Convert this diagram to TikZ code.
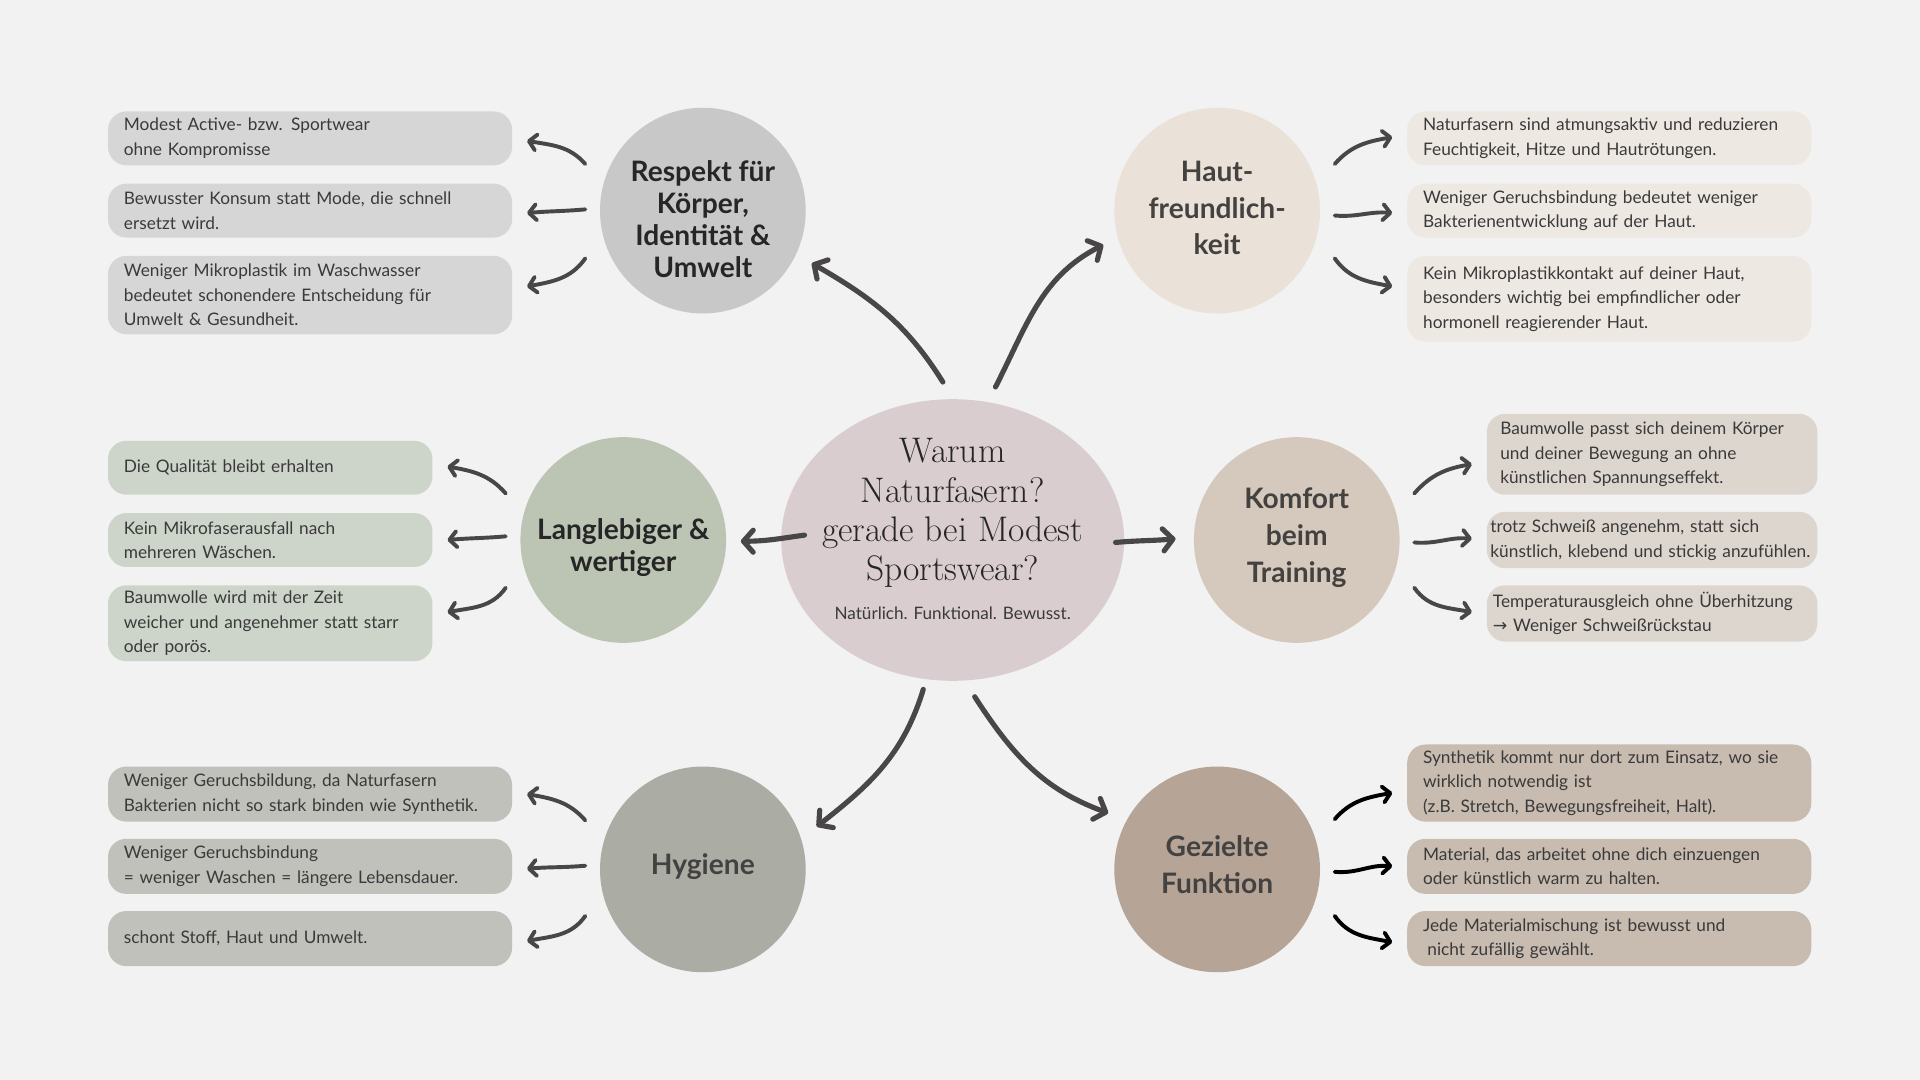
\documentclass[tikz,border=0pt]{standalone}
\usepackage{fontspec}
\setsansfont{Lato}
\newfontfamily\arrowfont{DejaVu Sans}
\usepackage{tikz}
\usetikzlibrary{shapes.geometric,arrows.meta,calc}

\definecolor{bgcol}{HTML}{F2F2F2}
\definecolor{cencol}{HTML}{D9CDD0}
\definecolor{respcol}{HTML}{C8C8C8}
\definecolor{respbox}{HTML}{D6D6D6}
\definecolor{hautcol}{HTML}{EAE1D8}
\definecolor{hautbox}{HTML}{EDE8E2}
\definecolor{langcol}{HTML}{BCC5B4}
\definecolor{langbox}{HTML}{CDD4C9}
\definecolor{komfcol}{HTML}{D4C9BC}
\definecolor{komfbox}{HTML}{DDD6CE}
\definecolor{hygcol}{HTML}{ABADA4}
\definecolor{hygbox}{HTML}{C0C1BB}
\definecolor{gezcol}{HTML}{B6A596}
\definecolor{gezbox}{HTML}{C8BBAF}
\definecolor{arrowcol}{HTML}{484646}
\definecolor{darktext}{HTML}{262626}
\definecolor{headtext}{HTML}{444141}
\definecolor{infotext}{HTML}{3A3A3A}

\tikzset{
  topic/.style={circle, minimum size=168pt, inner sep=0pt},
  heading/.style={align=center, inner sep=0pt,
    font=\sffamily\bfseries\fontsize{23}{30}\selectfont, text=headtext},
  tightheading/.style={heading, font=\sffamily\bfseries\fontsize{23}{26.3}\selectfont, text=darktext},
  info/.style={rounded corners=15pt, anchor=west, align=left, inner xsep=13pt,
    inner ysep=0pt, text width=304pt, font=\sffamily\fontsize{14.1}{20}\selectfont,
    text=infotext},
  bigarrow/.style={draw=arrowcol, line width=4.2pt, line cap=round,
    -{Straight Barb[length=8pt, width=18pt, line cap=round, line join=round]}},
  smallarrow/.style={draw=arrowcol, line width=3.2pt, line cap=round,
    -{Straight Barb[length=6pt, width=13pt, line cap=round, line join=round]}}
}

\begin{document}
\begin{tikzpicture}[x=1pt, y=1pt]
  \fill[bgcol] (0,0) rectangle (1568,-882);

  % centre
  \node[ellipse, fill=cencol, minimum width=280pt, minimum height=230pt, inner sep=0pt] (cen) at (778,-441) {};
  \node[align=center, font=\fontsize{29}{32}\selectfont, text=darktext] (title) at (778,-419)
    {Warum\\Naturfasern?\\gerade bei Modest\\Sportswear?};
  \node[font=\sffamily\fontsize{14}{16}\selectfont, text=infotext] (motto) at (778,-501)
    {Natürlich. Funktional. Bewusst.};

  % topics
  \node[topic, fill=respcol] (resp) at (574,-172) {};
  \node[tightheading] (resp-t) at ([yshift=-7pt]resp.center) {Respekt für\\Körper,\\Identität \&\\Umwelt};
  \node[topic, fill=hautcol] (haut) at (994,-172) {};
  \node[heading] (haut-t) at ([yshift=2pt]haut.center) {Haut-\\freundlich-\\keit};
  \node[topic, fill=langcol] (lang) at (509,-441) {};
  \node[tightheading] (lang-t) at ([yshift=-6pt]lang.center) {Langlebiger \&\\wertiger};
  \node[topic, fill=komfcol] (komf) at (1059,-441) {};
  \node[heading] (komf-t) at ([yshift=2pt]komf.center) {Komfort\\beim\\Training};
  \node[topic, fill=hygcol] (hyg) at (574,-710) {};
  \node[heading] (hyg-t) at ([yshift=2pt]hyg.center) {Hygiene};
  \node[topic, fill=gezcol] (gez) at (994,-710) {};
  \node[heading] (gez-t) at ([yshift=4pt]gez.center) {Gezielte\\Funktion};

  % Respekt
  \node[info, fill=respbox, minimum height=44pt] (r1) at (88,-113)
    {Modest Active- bzw. Sportwear\\ohne Kompromisse};
  \node[info, fill=respbox, minimum height=44pt] (r2) at (88,-172)
    {Bewusster Konsum statt Mode, die schnell\\ersetzt wird.};
  \node[info, fill=respbox, minimum height=64pt] (r3) at (88,-241)
    {Weniger Mikroplastik im Waschwasser\\bedeutet schonendere Entscheidung für\\Umwelt \& Gesundheit.};

  % Haut
  \node[info, fill=hautbox, minimum height=44pt] (h1) at (1149,-113)
    {Naturfasern sind atmungsaktiv und reduzieren\\Feuchtigkeit, Hitze und Hautrötungen.};
  \node[info, fill=hautbox, minimum height=44pt] (h2) at (1149,-172)
    {Weniger Geruchsbindung bedeutet weniger\\Bakterienentwicklung auf der Haut.};
  \node[info, fill=hautbox, minimum height=70pt] (h3) at (1149,-244)
    {Kein Mikroplastikkontakt auf deiner Haut,\\besonders wichtig bei empfindlicher oder\\hormonell reagierender Haut.};

  % Langlebiger
  \node[info, fill=langbox, minimum height=44pt, text width=239pt] (l1) at (88,-382)
    {Die Qualität bleibt erhalten};
  \node[info, fill=langbox, minimum height=44pt, text width=239pt] (l2) at (88,-441)
    {Kein Mikrofaserausfall nach\\mehreren Wäschen.};
  \node[info, fill=langbox, minimum height=62pt, text width=239pt] (l3) at (88,-509)
    {Baumwolle wird mit der Zeit\\weicher und angenehmer statt starr\\oder porös.};

  % Komfort
  \node[info, fill=komfbox, minimum height=66pt, inner xsep=11pt, text width=248pt] (k1) at (1214,-371)
    {Baumwolle passt sich deinem Körper\\und deiner Bewegung an ohne\\künstlichen Spannungseffekt.};
  \node[info, fill=komfbox, minimum height=46pt, inner xsep=3pt, text width=264pt] (k2) at (1214,-441)
    {trotz Schweiß angenehm, statt sich\\künstlich, klebend und stickig anzufühlen.};
  \node[info, fill=komfbox, minimum height=46pt, inner xsep=5pt, text width=260pt] (k3) at (1214,-501)
    {Temperaturausgleich ohne Überhitzung\\{\arrowfont →} Weniger Schweißrückstau};

  % Hygiene
  \node[info, fill=hygbox, minimum height=45pt] (y1) at (88,-648.5)
    {Weniger Geruchsbildung, da Naturfasern\\Bakterien nicht so stark binden wie Synthetik.};
  \node[info, fill=hygbox, minimum height=45pt] (y2) at (88,-707.5)
    {Weniger Geruchsbindung\\= weniger Waschen = längere Lebensdauer.};
  \node[info, fill=hygbox, minimum height=45pt] (y3) at (88,-766.5)
    {schont Stoff, Haut und Umwelt.};

  % Gezielte Funktion
  \node[info, fill=gezbox, minimum height=63pt] (g1) at (1149,-639.5)
    {Synthetik kommt nur dort zum Einsatz, wo sie\\wirklich notwendig ist\\(z.B. Stretch, Bewegungsfreiheit, Halt).};
  \node[info, fill=gezbox, minimum height=45pt] (g2) at (1149,-707.5)
    {Material, das arbeitet ohne dich einzuengen\\oder künstlich warm zu halten.};
  \node[info, fill=gezbox, minimum height=45pt] (g3) at (1149,-766.5)
    {Jede Materialmischung ist bewusst und\\\hspace*{0.25em}nicht zufällig gewählt.};

  % arrows from the centre
  \draw[bigarrow] ($(cen.center)+(-8,129)$) to[out=122, in=330] ($(resp.center)+(89,-43)$);
  \draw[bigarrow] ($(cen.center)+(35,125)$) to[out=63, in=207] ($(haut.center)+(-93,-28)$);
  \draw[bigarrow] ($(cen.center)+(-121,4)$) to[out=188, in=0] ($(lang.center)+(96,-1)$);
  \draw[bigarrow] ($(cen.center)+(133,-2)$) to[out=5, in=185] ($(komf.center)+(-99,1)$);
  \draw[bigarrow] ($(cen.center)+(-24,-122)$) to[out=253, in=38] ($(hyg.center)+(93,35)$);
  \draw[bigarrow] ($(cen.center)+(18,-128)$) to[out=303, in=160] ($(gez.center)+(-89,46)$);

  % arrows to the boxes
  \draw[smallarrow] ($(resp.center)+(-96,38)$) to[out=131, in=350] ($(r1.east)+(12,-2)$);
  \draw[smallarrow] ($(resp.center)+(-96,1)$) to[out=185, in=5] ($(r2.east)+(12,-2)$);
  \draw[smallarrow] ($(resp.center)+(-96,-39)$) to[out=235, in=11] ($(r3.east)+(12,7)$);

  \draw[smallarrow] ($(haut.center)+(96,38)$) to[out=49, in=190] ($(h1.west)+(-12,1)$);
  \draw[smallarrow] ($(haut.center)+(96,-4)$) to[out=355, in=175] ($(h2.west)+(-12,-2)$);
  \draw[smallarrow] ($(haut.center)+(96,-39)$) to[out=305, in=169] ($(h3.west)+(-12,10)$);

  \draw[smallarrow] ($(lang.center)+(-96,38)$) to[out=131, in=350] ($(l1.east)+(12,1)$);
  \draw[smallarrow] ($(lang.center)+(-96,3)$) to[out=185, in=5] ($(l2.east)+(12,0)$);
  \draw[smallarrow] ($(lang.center)+(-96,-39)$) to[out=235, in=11] ($(l3.east)+(12,9)$);

  \draw[smallarrow] ($(komf.center)+(96,38)$) to[out=49, in=190] ($(k1.west)+(-12,-8)$);
  \draw[smallarrow] ($(komf.center)+(96,-2)$) to[out=355, in=175] ($(k2.west)+(-12,1)$);
  \draw[smallarrow] ($(komf.center)+(96,-39)$) to[out=305, in=169] ($(k3.west)+(-12,1)$);

  \draw[smallarrow] ($(hyg.center)+(-96,40)$) to[out=131, in=350] ($(y1.east)+(12,0)$);
  \draw[smallarrow] ($(hyg.center)+(-96,3)$) to[out=185, in=5] ($(y2.east)+(12,-2)$);
  \draw[smallarrow] ($(hyg.center)+(-96,-38)$) to[out=235, in=11] ($(y3.east)+(12,-2)$);

  \draw[smallarrow, draw=black] ($(gez.center)+(96,41)$) to[out=49, in=190] ($(g1.west)+(-12,-8)$);
  \draw[smallarrow, draw=black] ($(gez.center)+(96,-2)$) to[out=355, in=175] ($(g2.west)+(-12,0)$);
  \draw[smallarrow, draw=black] ($(gez.center)+(96,-38)$) to[out=305, in=169] ($(g3.west)+(-12,-3)$);
\end{tikzpicture}
\end{document}
